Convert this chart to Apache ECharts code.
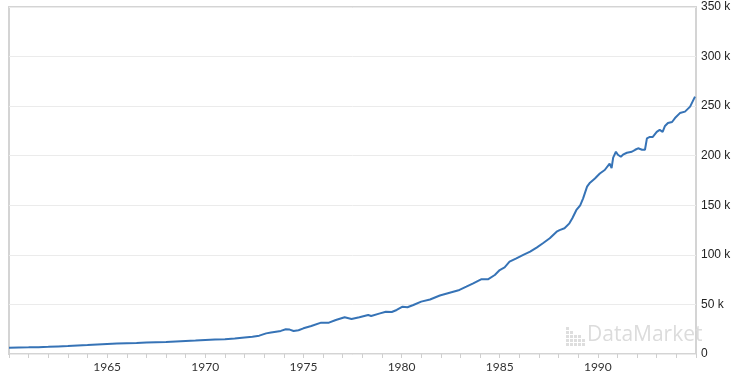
<!DOCTYPE html>
<html>
<head>
<meta charset="utf-8">
<script src="https://cdn.jsdelivr.net/npm/echarts@6/dist/echarts.min.js"></script>
<style>
  html, body { margin: 0; padding: 0; background: #fff; }
  #chart { width: 740px; height: 378px; }
</style>
</head>
<body>
<div id="chart"></div>
<script>
// time in decimal years, values in thousands
const years = [
  1960.0, 1960.5, 1961.0, 1961.5, 1962.0, 1962.5, 1963.0, 1963.5, 1964.0, 1964.5,
  1965.0, 1965.5, 1966.0, 1966.5, 1967.0, 1967.5, 1968.0, 1968.5, 1969.0, 1969.5,
  1970.0, 1970.5, 1971.0, 1971.5, 1972.0, 1972.4, 1972.75, 1973.1, 1973.35, 1973.6,
  1973.85, 1974.1, 1974.3, 1974.5, 1974.75, 1975.0, 1975.4, 1975.9, 1976.3, 1976.65,
  1977.1, 1977.45, 1977.85, 1978.3, 1978.45, 1978.9, 1979.2, 1979.5, 1979.75, 1980.05,
  1980.3, 1980.6, 1981.0, 1981.45, 1981.95, 1982.45, 1982.95, 1983.3, 1983.65, 1984.05,
  1984.4, 1984.75, 1985.0, 1985.25, 1985.5, 1985.85, 1986.2, 1986.55, 1986.9, 1987.2,
  1987.55, 1987.9, 1988.05, 1988.3, 1988.55, 1988.7, 1988.9, 1989.1, 1989.25, 1989.45,
  1989.6, 1989.85, 1990.1, 1990.35, 1990.6, 1990.7, 1990.78, 1990.92, 1991.02, 1991.17,
  1991.28, 1991.48, 1991.73, 1991.9, 1992.05, 1992.25, 1992.4, 1992.5, 1992.65, 1992.8,
  1993.0, 1993.15, 1993.3, 1993.42, 1993.57, 1993.78, 1993.93, 1994.18, 1994.44, 1994.7,
  1994.95
];
const values = [
  6.4, 6.6, 6.7, 6.9, 7.2, 7.6, 8.0, 8.5, 9.0, 9.6,
  10.2, 10.6, 10.9, 11.1, 11.5, 11.8, 12.1, 12.6, 13.1, 13.6,
  14.2, 14.6, 15.0, 15.6, 16.6, 17.4, 18.5, 20.8, 21.7, 22.5,
  23.3, 24.9, 24.6, 23.2, 24.0, 25.9, 28.2, 31.6, 31.6, 34.3,
  37.0, 35.3, 37.0, 39.3, 38.3, 41.0, 42.7, 42.4, 44.4, 47.7,
  47.1, 49.4, 52.8, 55.0, 59.0, 61.8, 64.6, 67.9, 71.3, 75.3,
  75.3, 79.7, 84.7, 87.4, 93.2, 96.5, 99.9, 103.2, 107.6, 111.7,
  116.7, 123.4, 125.0, 126.8, 131.8, 136.9, 145.0, 150.0, 157.0, 168.8,
  172.8, 177.0, 182.0, 185.6, 192.0, 187.6, 198.0, 204.0, 201.0, 199.0,
  201.0, 203.0, 204.0, 206.0, 207.5, 206.0, 206.0, 217.5, 219.0, 219.0,
  224.0, 226.0, 224.0, 230.0, 233.0, 234.0, 238.0, 243.0, 244.5, 249.5,
  259.6
];
const yearLabels = [1965, 1970, 1975, 1980, 1985, 1990];

const chart = echarts.init(document.getElementById('chart'));

const option = {
  backgroundColor: '#fff',
  animation: false,
  grid: {
    left: 9, right: 44, top: 7, bottom: 24,
    show: true, borderColor: '#d4d4d4', borderWidth: 2
  },
  xAxis: {
    type: 'value',
    min: 1960, max: 1995, interval: 1,
    axisLine: { show: false },
    axisTick: { show: true, length: 4, lineStyle: { color: '#cfcfcf' } },
    splitLine: { show: false },
    axisLabel: {
      margin: 7,
      fontFamily: 'Lato', fontSize: 12, color: '#333',
      formatter: v => yearLabels.includes(v) ? String(v) : ''
    }
  },
  yAxis: {
    type: 'value',
    position: 'right',
    min: 0, max: 350, interval: 50,
    axisLine: { show: false },
    axisTick: { show: false },
    splitLine: { lineStyle: { color: '#ebebeb', width: 1 } },
    axisLabel: {
      margin: 5,
      fontFamily: 'Liberation Sans', fontSize: 12, color: '#222',
      formatter: v => v === 0 ? '0' : v + ' k'
    }
  },
  graphic: [
    {
      type: 'group', left: 566, top: 327,
      children: [
        [0, 0], [0, 1], [1, 1], [0, 2], [1, 2], [2, 2], [3, 2],
        [0, 3], [1, 3], [2, 3], [3, 3], [4, 3],
        [0, 4], [1, 4], [2, 4], [3, 4], [4, 4]
      ].map(([c, r]) => ({
        type: 'rect',
        shape: { x: c * 4, y: r * 4, width: 3, height: 3 },
        style: { fill: '#dedede' }
      }))
    },
    {
      type: 'text', left: 587, top: 325,
      style: { text: 'DataMarket', fill: '#dcdcdc', font: '21px "Open Sans"' }
    }
  ],
  series: [{
    type: 'line',
    data: years.map((t, i) => [t, values[i]]),
    showSymbol: false,
    lineStyle: { color: '#3673b6', width: 2 }
  }]
};

chart.setOption(option);
</script>
</body>
</html>
